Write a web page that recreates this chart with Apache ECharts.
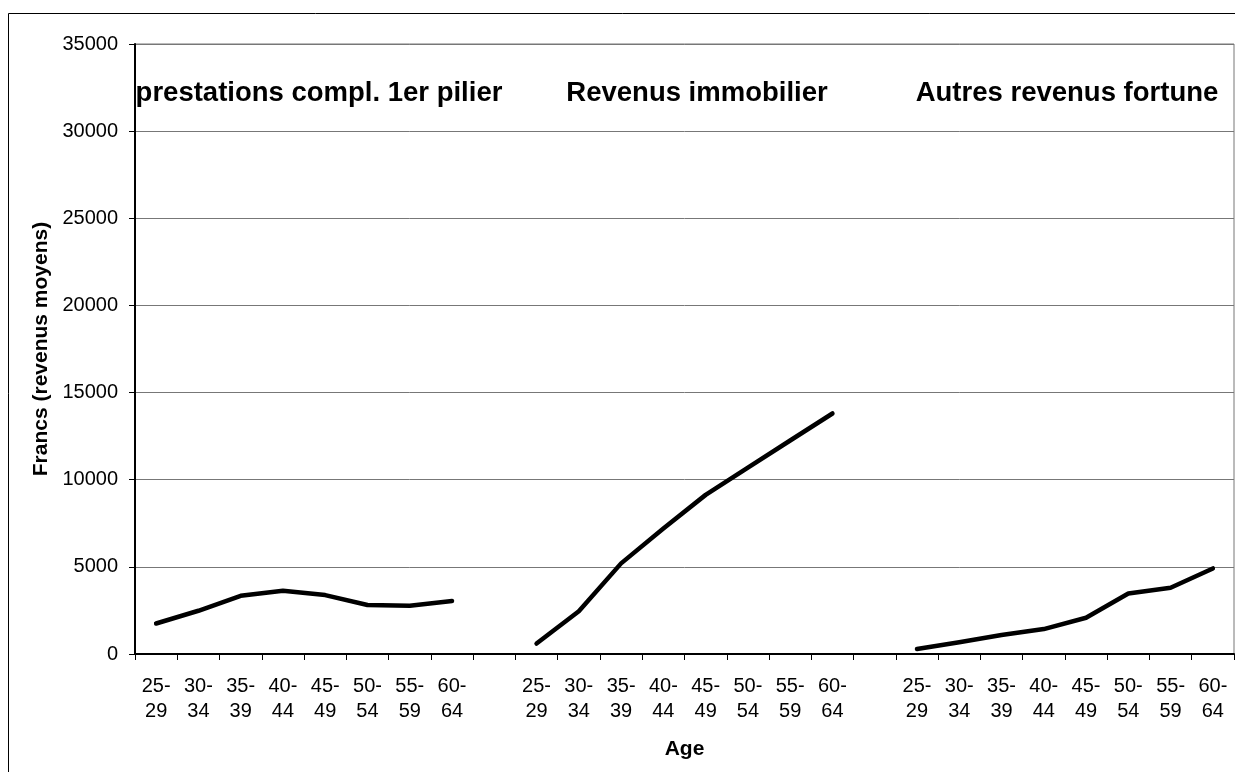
<!DOCTYPE html>
<html>
<head>
<meta charset="utf-8">
<title>Revenus moyens par âge</title>
<script src="https://cdn.jsdelivr.net/npm/echarts@6/dist/echarts.min.js"></script>
<style>
    html, body { margin: 0; padding: 0; background: #fff; }
    #chart { width: 1235px; height: 772px; }
</style>
</head>
<body>
<div id="chart"></div>
<script>
    // classes d'âge (libellés sur deux lignes)
    const ageLabels = ['25-\n29', '30-\n34', '35-\n39', '40-\n44', '45-\n49', '50-\n54', '55-\n59', '60-\n64']
    const panelTitles = ['prestations compl. 1er pilier', 'Revenus immobilier', 'Autres revenus fortune']

    // valeurs (francs)
    const prestations = [1750, 2480, 3340, 3630, 3380, 2810, 2770, 3040]
    const immobilier = [600, 2450, 5200, 7200, 9130, 10700, 12250, 13800]
    const autres = [290, 670, 1090, 1430, 2080, 3470, 3800, 4910]

    const yTicks = [0, 5000, 10000, 15000, 20000, 25000, 30000, 35000]

    const font = '"Liberation Sans", Arial, sans-serif'

    // une catégorie vide entre chaque groupe
    const empty = ageLabels.map(() => null)
    const xData = [...ageLabels, '', ...ageLabels, '', ...ageLabels]
    const serie1 = [...prestations, null, ...empty, null, ...empty]
    const serie2 = [...empty, null, ...immobilier, null, ...empty]
    const serie3 = [...empty, null, ...empty, null, ...autres]

    const chart = echarts.init(document.getElementById('chart'))

    const lineStyle = {color: '#000', width: 4.5, cap: 'round', join: 'round'}
    const makeSerie = (name, data) => ({
        name: name,
        type: 'line',
        data: data,
        symbol: 'none',
        connectNulls: false,
        lineStyle: lineStyle,
        itemStyle: {color: '#000'},
        z: 5
    })

    // titres des trois panneaux (centres en px)
    const titleX = [319, 697, 1067]

    chart.setOption({
        animation: false,
        backgroundColor: '#fff',
        grid: {
            left: 135,
            right: 1,
            top: 44,
            bottom: 118,
            show: true,
            borderColor: '#777',
            borderWidth: 1
        },
        xAxis: {
            type: 'category',
            data: xData,
            boundaryGap: true,
            name: 'Age',
            nameLocation: 'middle',
            nameGap: 85,
            nameTextStyle: {fontFamily: font, fontSize: 21, fontWeight: 'bold', color: '#000'},
            axisLine: {lineStyle: {color: '#000', width: 2}},
            axisTick: {show: true, interval: 0, length: 6, lineStyle: {color: '#000', width: 1}},
            axisLabel: {
                interval: 0,
                margin: 20,
                fontFamily: font,
                fontSize: 20,
                lineHeight: 25,
                color: '#000'
            },
            splitLine: {show: false}
        },
        yAxis: {
            type: 'value',
            min: yTicks[0],
            max: yTicks[yTicks.length - 1],
            interval: yTicks[1] - yTicks[0],
            name: 'Francs (revenus moyens)',
            nameLocation: 'middle',
            nameGap: 83,
            nameTextStyle: {fontFamily: font, fontSize: 21, fontWeight: 'bold', color: '#000'},
            axisLine: {show: true, lineStyle: {color: '#000', width: 2}},
            axisTick: {show: true, length: 6, lineStyle: {color: '#000', width: 1}},
            axisLabel: {
                margin: 17,
                fontFamily: font,
                fontSize: 20,
                color: '#000',
                formatter: v => String(v)
            },
            splitLine: {show: true, lineStyle: {color: '#777', width: 1}}
        },
        graphic: [
            {
                type: 'rect',
                silent: true,
                shape: {x: 8.5, y: 13.5, width: 1300, height: 800},
                style: {fill: 'none', stroke: '#000', lineWidth: 1}
            },
            ...panelTitles.map((t, i) => ({
                type: 'text',
                silent: true,
                x: titleX[i],
                y: 93,
                z: 10,
                style: {
                    text: t,
                    fontFamily: font,
                    fontSize: 27.5,
                    fontWeight: 'bold',
                    fill: '#000',
                    align: 'center',
                    verticalAlign: 'middle'
                }
            }))
        ],
        series: [
            makeSerie(panelTitles[0], serie1),
            makeSerie(panelTitles[1], serie2),
            makeSerie(panelTitles[2], serie3)
        ]
    })
</script>
</body>
</html>
